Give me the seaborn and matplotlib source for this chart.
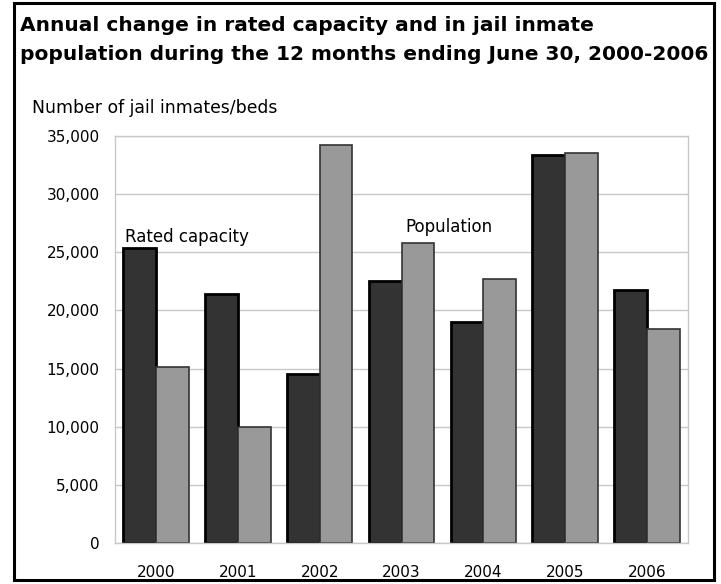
import pandas as pd
import matplotlib
matplotlib.use('Agg')
import matplotlib.pyplot as plt
from matplotlib.patches import Rectangle
from matplotlib.ticker import FuncFormatter
import seaborn as sns

# values (change over 12 months ending June 30)
years = ['2000', '2001', '2002', '2003', '2004', '2005', '2006']
rated_capacity = [25400, 21450, 14530, 22500, 19030, 33370, 21770]
population = [15130, 10000, 34230, 25770, 22680, 33510, 18400]
series_names = ['Rated capacity', 'Population']

df = pd.DataFrame({
    'year': years * 2,
    'value': rated_capacity + population,
    'series': [series_names[0]] * len(years) + [series_names[1]] * len(years),
})

sns.set_theme(style='white')
plt.rcParams['font.family'] = ['DejaVu Sans']
plt.rcParams['text.color'] = 'black'
plt.rcParams['xtick.color'] = 'black'
plt.rcParams['ytick.color'] = 'black'

W, H = 721, 584
fig = plt.figure(figsize=(W / 100, H / 100), dpi=100)
ax = fig.add_axes([115 / W, 1 - 543 / H, (688 - 115) / W, (543 - 136) / H])

sns.barplot(data=df, x='year', y='value', hue='series',
            palette=['#333333', '#999999'], width=0.8, ax=ax)

# dark bars get heavy black edges, light ones a thinner grey edge
for patch in ax.containers[0]:
    patch.set_edgecolor('black')
    patch.set_linewidth(2.0)
for patch in ax.containers[1]:
    patch.set_edgecolor('#333333')
    patch.set_linewidth(1.2)

ax.legend().remove()
ax.set_xlabel('')
ax.set_ylabel('')
ax.set_ylim(0, 35000)
ax.set_xlim(-0.5, 6.5)
ax.set_yticks(range(0, 35001, 5000))
ax.yaxis.set_major_formatter(FuncFormatter(lambda v, p: f'{int(v):,}'))
ax.yaxis.grid(True, color='#c8c8c8', linewidth=1.0)
ax.set_axisbelow(True)
ax.tick_params(axis='both', length=0, labelsize=11, labelcolor='black')
ax.tick_params(axis='y', pad=11)
ax.tick_params(axis='x', pad=16)
for s in ax.spines.values():
    s.set_color('#c8c8c8')
    s.set_linewidth(1.0)

# inline series labels
ax.text(-0.378, 25900, 'Rated capacity', fontsize=12, ha='left', va='baseline')
ax.text(3.043, 26770, 'Population', fontsize=12, ha='left', va='baseline')

fig.text(20 / W, 1 - 31 / H, 'Annual change in rated capacity and in jail inmate',
         fontsize=14.5, fontweight='bold', ha='left', va='baseline')
fig.text(20 / W, 1 - 60 / H, 'population during the 12 months ending June 30, 2000-2006',
         fontsize=14.5, fontweight='bold', ha='left', va='baseline')
fig.text(32 / W, 1 - 113 / H, 'Number of jail inmates/beds',
         fontsize=12.4, ha='left', va='baseline')

fig.add_artist(Rectangle((14 / W, 4 / H), 700 / W, 577 / H,
                         transform=fig.transFigure, fill=False,
                         edgecolor='black', linewidth=2.2))

fig.savefig('out.png', dpi=100)
